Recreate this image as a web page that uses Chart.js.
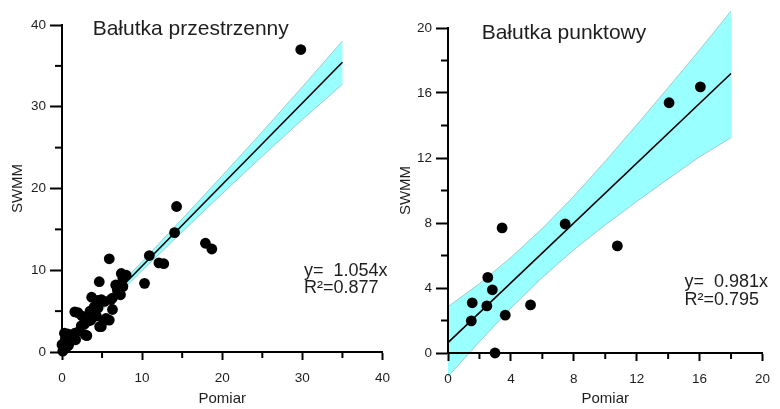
<!DOCTYPE html>
<html>
<head>
<meta charset="utf-8">
<script src="https://cdn.jsdelivr.net/npm/chart.js@4.4.1/dist/chart.umd.min.js"></script>
<style>
  html, body { margin: 0; padding: 0; background: #fff; }
  #wrap { position: relative; width: 780px; height: 409px; overflow: hidden; }
  #c1 { position: absolute; left: 0; top: 0; }
  #c2 { position: absolute; left: 390px; top: 0; }
</style>
</head>
<body>
<div id="wrap">
  <canvas id="c1" width="400" height="409"></canvas>
  <canvas id="c2" width="390" height="409"></canvas>
</div>
<script>
// ---- Bałutka przestrzenny: measured vs SWMM ----
const spatialPomiar = [29.8,14.3,14.05,17.9,18.7,10.9,5.9,12.1,12.7,7.4,8.0,7.6,10.3,4.65,6.7,7.6,7.1,7.3,6.9,3.7,4.5,4.9,5.3,6.1,6.3,6.3,4.0,4.5,3.5,3.9,4.3,5.5,5.9,5.2,4.7,4.9,1.6,2.0,2.5,2.4,2.8,3.1,2.9,2.2,0.4,1.0,1.6,1.7,1.2,1.4,0.9,0.6,0.4,0.0,0.2,0.5,0.1,0.8,1.0,0.3,0.7,3.3,3.6];
const spatialSwmm   = [37.0,17.8,14.6,13.3,12.6,11.8,11.4,10.9,10.8,9.6,9.4,9.0,8.4,8.6,8.2,8.0,8.1,7.0,7.6,6.7,6.3,6.4,6.2,6.4,6.6,5.2,5.5,5.4,5.0,4.4,4.4,4.1,3.9,3.8,3.1,3.1,4.9,4.8,4.4,3.2,3.4,2.0,2.1,2.6,2.1,2.1,2.3,1.5,1.6,1.9,1.1,1.6,1.5,0.9,0.3,0.5,0.1,0.8,1.4,2.3,2.2,3.8,3.9];
const spatialFitX   = [0, 35];
const spatialFitY   = [0.55, 35.45];
const spatialBandX     = [0, 5, 10, 15, 20, 25, 30, 35];
const spatialBandUpper = [1.15, 5.98, 11.06, 16.29, 21.57, 26.95, 32.43, 38.05];
const spatialBandLower = [-0.05, 5.08, 9.96, 14.69, 19.37, 23.95, 28.43, 32.75];
const spatialMajorTicks = [0, 10, 20, 30, 40];
const spatialMinorTicks = [5, 15, 25, 35];

// ---- Bałutka punktowy: measured vs SWMM ----
const pointPomiar = [16.05, 14.06, 7.45, 3.44, 10.77, 2.53, 2.82, 1.54, 2.47, 5.25, 3.64, 1.48, 2.99];
const pointSwmm   = [16.38, 15.40, 7.94, 7.70, 6.59, 4.65, 3.89, 3.09, 2.90, 2.96, 2.33, 1.98, 0.00];
const pointFitX   = [0, 18];
const pointFitY   = [0.64, 17.2];
const pointBandX     = [0, 2, 4, 6, 8, 10, 12, 14, 16, 18];
const pointBandUpper = [2.85, 4.27, 5.88, 7.67, 9.65, 11.80, 14.04, 16.33, 18.65, 21.05];
const pointBandLower = [-1.45, 0.69, 2.76, 4.65, 6.35, 7.88, 9.32, 10.71, 12.07, 13.25];
const pointMajorTicks = [0, 4, 8, 12, 16, 20];
const pointMinorTicks = [2, 6, 10, 14, 18];

Chart.defaults.font.family = "'Liberation Sans', Arial, sans-serif";
Chart.defaults.color = '#1e1e1e';

const FONT = "'Liberation Sans', Arial, sans-serif";

// Draws the confidence band under the axes, then minor ticks, title and fit text on top.
const decorPlugin = {
  id: 'decor',
  beforeDraw(chart, args, o) {
    const up = chart.getDatasetMeta(2).data;
    const lo = chart.getDatasetMeta(3).data;
    const ctx = chart.ctx;
    ctx.save();
    ctx.beginPath();
    up.forEach((p, i) => i ? ctx.lineTo(p.x, p.y) : ctx.moveTo(p.x, p.y));
    for (let i = lo.length - 1; i >= 0; i--) ctx.lineTo(lo[i].x, lo[i].y);
    ctx.closePath();
    ctx.fillStyle = o.bandColor;
    ctx.fill();
    ctx.strokeStyle = o.bandEdge;
    ctx.lineWidth = 1;
    ctx.beginPath();
    up.forEach((p, i) => i ? ctx.lineTo(p.x, p.y) : ctx.moveTo(p.x, p.y));
    ctx.stroke();
    ctx.beginPath();
    lo.forEach((p, i) => i ? ctx.lineTo(p.x, p.y) : ctx.moveTo(p.x, p.y));
    ctx.stroke();
    ctx.restore();
  },
  afterDraw(chart, args, o) {
    const ctx = chart.ctx;
    const xs = chart.scales.x, ys = chart.scales.y;
    const a = chart.chartArea;
    ctx.save();
    ctx.strokeStyle = '#000';
    ctx.lineWidth = 2;
    o.minor.forEach(v => {
      const px = xs.getPixelForValue(v);
      ctx.beginPath(); ctx.moveTo(px, a.bottom); ctx.lineTo(px, a.bottom + 6); ctx.stroke();
      const py = ys.getPixelForValue(v);
      ctx.beginPath(); ctx.moveTo(a.left - 7, py); ctx.lineTo(a.left, py); ctx.stroke();
    });
    ctx.fillStyle = '#1e1e1e';
    ctx.textBaseline = 'alphabetic';
    ctx.textAlign = 'left';
    ctx.font = '21px ' + FONT;
    ctx.fillText(o.title, xs.getPixelForValue(o.titleAt[0]), ys.getPixelForValue(o.titleAt[1]));
    ctx.font = '18px ' + FONT;
    const tx = xs.getPixelForValue(o.fitAt[0]);
    const ty = ys.getPixelForValue(o.fitAt[1]);
    ctx.fillText(o.fitText[0], tx, ty);
    ctx.fillText(o.fitText[1], tx, ty + 17.5);
    ctx.restore();
  }
};

function buildChart(canvasId, d) {
  const pts = d.px.map((x, i) => ({ x, y: d.py[i] }));
  const fit = d.fitX.map((x, i) => ({ x, y: d.fitY[i] }));
  const up = d.bandX.map((x, i) => ({ x, y: d.bandUp[i] }));
  const lo = d.bandX.map((x, i) => ({ x, y: d.bandLo[i] }));
  const tickFont = { family: FONT, size: 13.5 };
  const titleFont = { family: FONT, size: 15 };
  const tickColor = c => d.major.includes(c.tick.value) ? '#000' : 'rgba(0,0,0,0)';
  const label = v => d.major.includes(v) ? String(v) : '';
  return new Chart(document.getElementById(canvasId), {
    type: 'scatter',
    data: {
      datasets: [
        { label: 'Pomiar / SWMM', data: pts, pointRadius: 5.4, pointHoverRadius: 5.4,
          pointBackgroundColor: '#000', pointBorderWidth: 0, clip: false },
        { label: 'regresja', data: fit, showLine: true, borderColor: '#000', borderWidth: 1.6,
          pointRadius: 0, clip: false },
        { label: 'górna granica', data: up, pointRadius: 0, pointHitRadius: 0, clip: false },
        { label: 'dolna granica', data: lo, pointRadius: 0, pointHitRadius: 0, clip: false }
      ]
    },
    options: {
      responsive: false,
      animation: false,
      events: [],
      layout: { padding: d.pad },
      plugins: {
        legend: { display: false },
        tooltip: { enabled: false },
        decor: {
          bandColor: 'rgb(153,255,255)', bandEdge: 'rgba(150,190,190,0.8)',
          minor: d.minor, title: d.title, titleAt: d.titleAt,
          fitText: d.fitText, fitAt: d.fitAt
        }
      },
      scales: {
        x: {
          type: 'linear', min: 0, max: d.xMax,
          ticks: { stepSize: d.step, autoSkip: false, maxRotation: 0, padding: 10,
                   font: tickFont, color: '#1e1e1e', callback: label },
          grid: { display: true, drawOnChartArea: false, drawTicks: true, tickLength: 8,
                  tickWidth: 2, tickColor },
          border: { display: true, color: '#000', width: 2 },
          title: { display: true, text: 'Pomiar', font: titleFont, color: '#1e1e1e',
                   padding: { top: 0, bottom: 1 } },
          afterFit: s => { s.height = d.xHeight; }
        },
        y: {
          type: 'linear', min: 0, max: d.yMax,
          ticks: { stepSize: d.step, autoSkip: false, padding: 4,
                   font: tickFont, color: '#1e1e1e', callback: label },
          grid: { display: true, drawOnChartArea: false, drawTicks: true, tickLength: 12,
                  tickWidth: 2, tickColor },
          border: { display: true, color: '#000', width: 2 },
          title: { display: true, text: 'SWMM', font: titleFont, color: '#1e1e1e',
                   padding: { top: d.yTitlePad, bottom: 0 } },
          afterFit: s => { s.width = d.yWidth; }
        }
      }
    },
    plugins: [decorPlugin]
  });
}

buildChart('c1', {
  px: spatialPomiar, py: spatialSwmm,
  fitX: spatialFitX, fitY: spatialFitY,
  bandX: spatialBandX, bandUp: spatialBandUpper, bandLo: spatialBandLower,
  major: spatialMajorTicks, minor: spatialMinorTicks, step: 5,
  xMax: 40, yMax: 40,
  pad: { top: 25, right: 11, bottom: 0, left: 0 },
  yWidth: 62, xHeight: 57, yTitlePad: 9,
  title: 'Bałutka przestrzenny', titleAt: [3.83, 38.8],
  fitText: ['y=  1.054x', 'R\u00B2=0.877'], fitAt: [30.2, 9.33]
});

buildChart('c2', {
  px: pointPomiar, py: pointSwmm,
  fitX: pointFitX, fitY: pointFitY,
  bandX: pointBandX, bandUp: pointBandUpper, bandLo: pointBandLower,
  major: pointMajorTicks, minor: pointMinorTicks, step: 2,
  xMax: 20, yMax: 20,
  pad: { top: 28, right: 7, bottom: 0, left: 0 },
  yWidth: 58, xHeight: 56, yTitlePad: 7,
  title: 'Bałutka punktowy', titleAt: [2.14, 19.35],
  fitText: ['y=  0.981x', 'R\u00B2=0.795'], fitAt: [15.04, 4.06]
});
</script>
</body>
</html>
